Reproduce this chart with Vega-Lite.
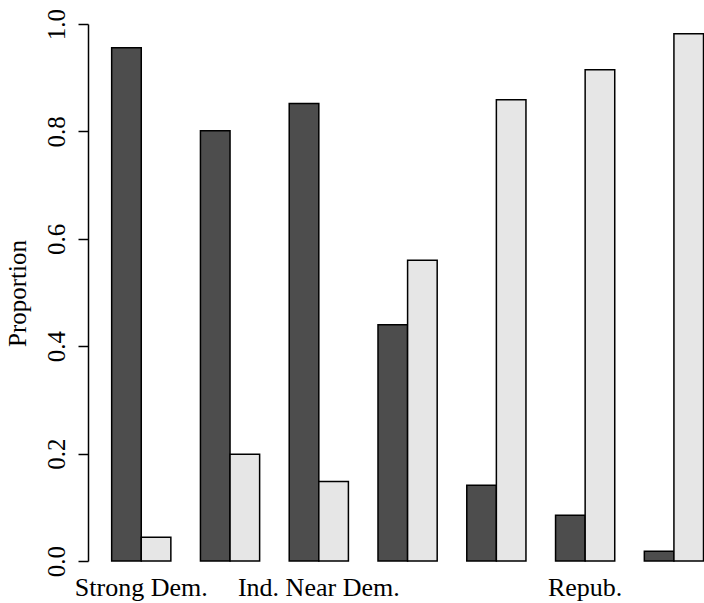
{
  "$schema": "https://vega.github.io/schema/vega-lite/v6.json",
  "width": 616,
  "height": 537,
  "autosize": {"type": "none"},
  "padding": {"left": 88, "top": 24, "right": 0, "bottom": 42},
  "background": "white",
  "config": {"view": {"stroke": null}, "font": "Liberation Serif"},
  "data": {
    "values": [
      {"group": "Strong Dem.", "vote": "Democrat", "p": 0.956},
      {"group": "Strong Dem.", "vote": "Republican", "p": 0.044},
      {"group": "Dem.", "vote": "Democrat", "p": 0.801},
      {"group": "Dem.", "vote": "Republican", "p": 0.199},
      {"group": "Ind. Near Dem.", "vote": "Democrat", "p": 0.852},
      {"group": "Ind. Near Dem.", "vote": "Republican", "p": 0.148},
      {"group": "Ind.", "vote": "Democrat", "p": 0.44},
      {"group": "Ind.", "vote": "Republican", "p": 0.56},
      {"group": "Ind. Near Repub.", "vote": "Democrat", "p": 0.141},
      {"group": "Ind. Near Repub.", "vote": "Republican", "p": 0.859},
      {"group": "Repub.", "vote": "Democrat", "p": 0.085},
      {"group": "Repub.", "vote": "Republican", "p": 0.915},
      {"group": "Strong Repub.", "vote": "Democrat", "p": 0.018},
      {"group": "Strong Repub.", "vote": "Republican", "p": 0.982}
    ]
  },
  "mark": {"type": "bar", "stroke": "black", "strokeWidth": 1.5},
  "encoding": {
    "x": {
      "field": "group",
      "type": "nominal",
      "sort": null,
      "scale": {"paddingInner": 0.3333, "paddingOuter": 0.136, "align": 0.98},
      "axis": {
        "title": null,
        "domain": false,
        "ticks": false,
        "tickSize": 0,
        "labelAngle": 0,
        "labelFont": "Liberation Serif",
        "labelFontSize": 26,
        "labelColor": "black",
        "labelBaseline": "alphabetic",
        "labelPadding": 34,
        "labelOverlap": false,
        "labelExpr": "indexof(['Strong Dem.','Ind. Near Dem.','Repub.'], datum.value) >= 0 ? datum.value : ''"
      }
    },
    "xOffset": {
      "field": "vote",
      "type": "nominal",
      "scale": {"domain": ["Democrat", "Republican"], "paddingInner": 0, "paddingOuter": 0}
    },
    "y": {
      "field": "p",
      "type": "quantitative",
      "scale": {"domain": [0, 1], "nice": false, "zero": true},
      "axis": {
        "title": "Proportion",
        "values": [0, 0.2, 0.4, 0.6, 0.8, 1.0],
        "format": ".1f",
        "grid": false,
        "domainColor": "black",
        "domainWidth": 1.5,
        "tickColor": "black",
        "tickWidth": 1.5,
        "tickSize": 10,
        "labelAngle": 270,
        "labelAlign": "center",
        "labelBaseline": "alphabetic",
        "labelPadding": 14,
        "labelFont": "Liberation Serif",
        "labelFontSize": 25,
        "labelColor": "black",
        "titleFont": "Liberation Serif",
        "titleFontSize": 25,
        "titleFontWeight": "normal",
        "titleColor": "black",
        "titleAngle": 270,
        "titleBaseline": "alphabetic",
        "titleAlign": "center",
        "titleX": -63,
        "titleY": 269
      }
    },
    "color": {
      "field": "vote",
      "type": "nominal",
      "scale": {"domain": ["Democrat", "Republican"], "range": ["#4d4d4d", "#e6e6e6"]},
      "legend": null
    }
  }
}
